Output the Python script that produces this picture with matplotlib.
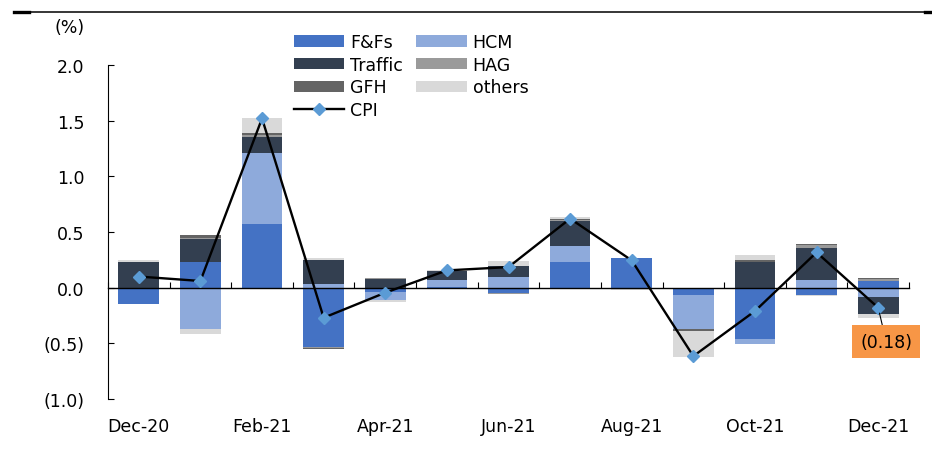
import numpy as np
import matplotlib.pyplot as plt
from matplotlib.lines import Line2D
from matplotlib.ticker import FuncFormatter

plt.rcParams['font.family'] = 'DejaVu Sans'

months = ['Dec-20', 'Jan-21', 'Feb-21', 'Mar-21', 'Apr-21', 'May-21', 'Jun-21',
          'Jul-21', 'Aug-21', 'Sep-21', 'Oct-21', 'Nov-21', 'Dec-21']

# contributions (percentage points)
ffs     = [-0.15, 0.235, 0.575, -0.53, -0.04, 0.01, -0.045, 0.235, 0.265, -0.065, -0.465, -0.065, 0.057]
hcm     = [0.0, -0.37, 0.635, 0.03, -0.07, 0.06, 0.095, 0.135, 0.0, -0.31, -0.04, 0.065, -0.08]
traffic = [0.23, 0.205, 0.145, 0.215, 0.08, 0.08, 0.10, 0.225, 0.0, 0.0, 0.23, 0.295, -0.155]
hag     = [0.0, 0.01, 0.02, -0.01, 0.01, 0.0, -0.01, 0.01, 0.0, 0.0, 0.0, 0.02, 0.023]
gfh     = [0.0, 0.025, 0.01, -0.01, 0.0, 0.0, 0.0, 0.01, 0.0, -0.015, 0.015, 0.015, 0.007]
others  = [0.02, -0.05, 0.135, 0.025, -0.02, 0.01, 0.045, 0.02, -0.02, -0.235, 0.05, -0.01, -0.035]
cpi     = [0.10, 0.06, 1.52, -0.27, -0.045, 0.155, 0.185, 0.62, 0.245, -0.615, -0.21, 0.317, -0.18]

series = [('F&Fs', ffs, '#4472C4'),
          ('HCM', hcm, '#8EAADB'),
          ('Traffic', traffic, '#333F50'),
          ('HAG', hag, '#9A9A9A'),
          ('GFH', gfh, '#646464'),
          ('others', others, '#D9D9D9')]

fig = plt.figure(figsize=(9.32, 4.56), dpi=100)
ax = fig.add_axes([108/932, 1-400/456, (909-108)/932, (400-66)/456])

x = np.arange(len(months))
pos_bottom = np.zeros(len(months))
neg_bottom = np.zeros(len(months))
handles = {}
for name, vals, color in series:
    vals = np.array(vals)
    pos = np.where(vals > 0, vals, 0)
    neg = np.where(vals < 0, vals, 0)
    b = ax.bar(x, pos, 0.66, bottom=pos_bottom, color=color, zorder=2)
    ax.bar(x, neg, 0.66, bottom=neg_bottom, color=color, zorder=2)
    pos_bottom += pos
    neg_bottom += neg
    handles[name] = b

line, = ax.plot(x, cpi, color='black', lw=1.7, marker='D', ms=6.5,
                mfc='#5B9BD5', mec='#5B9BD5', zorder=3)
handles['CPI'] = line

order = ['F&Fs', 'Traffic', 'GFH', 'CPI', 'HCM', 'HAG', 'others']
ax.legend([handles[k] for k in order], order, ncol=2, loc='upper left',
          bbox_to_anchor=(294/932, 1-34/456), bbox_transform=fig.transFigure,
          frameon=False, fontsize=12.5, handlelength=2.9, handleheight=0.63,
          handletextpad=0.35, labelspacing=0.27, columnspacing=0.75,
          borderpad=0, borderaxespad=0)

ax.annotate('(0.18)', xy=(12, cpi[12]), xytext=(12.13, -0.485),
            ha='center', va='center', fontsize=12.5,
            bbox=dict(boxstyle='square,pad=0.45', fc='#F79646', ec='none'),
            arrowprops=dict(arrowstyle='-', color='black', lw=0.8, shrinkA=0, shrinkB=4),
            zorder=4)

ax.set_xlim(-0.5, 12.5)
ax.set_ylim(-1.0, 2.0)
ax.spines['top'].set_visible(False)
ax.spines['right'].set_visible(False)
ax.spines['bottom'].set_position(('data', 0))
ax.spines['bottom'].set_linewidth(1.0)
ax.spines['left'].set_linewidth(0.8)

ax.set_xticks(x[::2])
ax.set_xticklabels(months[::2], fontsize=12.5)
ax.set_xticks(np.arange(-0.5, 13, 1), minor=True)
ax.tick_params(axis='x', which='major', length=0, pad=93)
ax.tick_params(axis='x', which='minor', direction='in', length=4.5, width=0.8)

ax.set_yticks([-1.0, -0.5, 0.0, 0.5, 1.0, 1.5, 2.0])
ax.yaxis.set_major_formatter(FuncFormatter(lambda v, p: f'({abs(v):.1f})' if v < 0 else f'{v:.1f}'))
ax.tick_params(axis='y', direction='in', length=4.5, width=0.8, pad=17, labelsize=12.5)

fig.text(85/932, 1-28/456, '(%)', ha='right', va='center', fontsize=12.5)

# header rule
fig.add_artist(Line2D([29/932, 1], [1-12.5/456]*2, lw=1.1, color='black'))
fig.add_artist(Line2D([14/932, 29/932], [1-12.5/456]*2, lw=2.4, color='black'))
fig.add_artist(Line2D([925/932, 1], [1-12.5/456]*2, lw=2.4, color='black'))

fig.savefig('out.png', dpi=100)
